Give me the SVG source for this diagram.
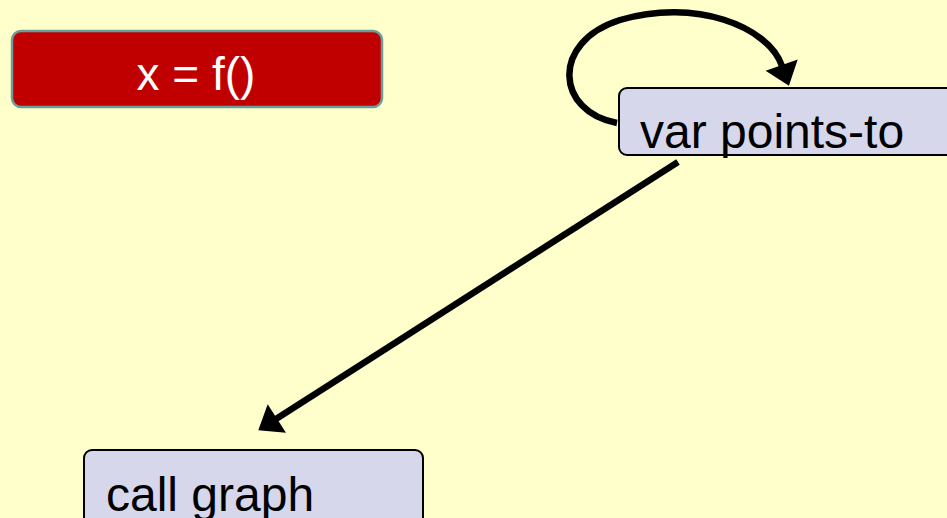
<svg xmlns="http://www.w3.org/2000/svg" width="947" height="518" viewBox="0 0 947 518">
  <defs>
    <!-- arrowhead: path ends at its base, the tip sits 21px further on -->
    <marker id="arrow" markerUnits="userSpaceOnUse" markerWidth="24" markerHeight="34" refX="1" refY="17" orient="auto" overflow="visible">
      <path d="M0,0 L22,17 L0,34 Z" fill="#000"/>
    </marker>
    <style>
      .box { fill: #D6D7EB; stroke: #000; stroke-width: 2; }
      .label { font-family: "Liberation Sans", Arial, sans-serif; font-size: 48px; fill: #000; }
      .edge { fill: none; stroke: #000; stroke-width: 6.5; marker-end: url(#arrow); }
    </style>
  </defs>

  <rect width="947" height="518" fill="#FFFFCC"/>

  <g id="stmt">
    <rect x="12" y="31" width="370" height="76" rx="9" fill="#C00000" stroke="#6A9E9B" stroke-width="2.5"/>
    <text x="196" y="90" text-anchor="middle" font-family="'Liberation Sans', Arial, sans-serif" font-size="46" fill="#FFFFFF">x = f()</text>
  </g>

  <g id="var-points-to">
    <rect class="box" x="619" y="88" width="340" height="67" rx="8"/>
    <text class="label" x="640" y="148">var points-to</text>
  </g>

  <g id="call-graph">
    <rect class="box" x="84" y="450" width="339" height="80" rx="8"/>
    <text class="label" x="106" y="511">call graph</text>
  </g>

  <g id="connectors">
    <path class="edge" d="M617,123 C556,112 550,42 620,20 C695,-2 768,26 782,66"/>
    <path class="edge" d="M678,162 L276,419"/>
  </g>
</svg>
